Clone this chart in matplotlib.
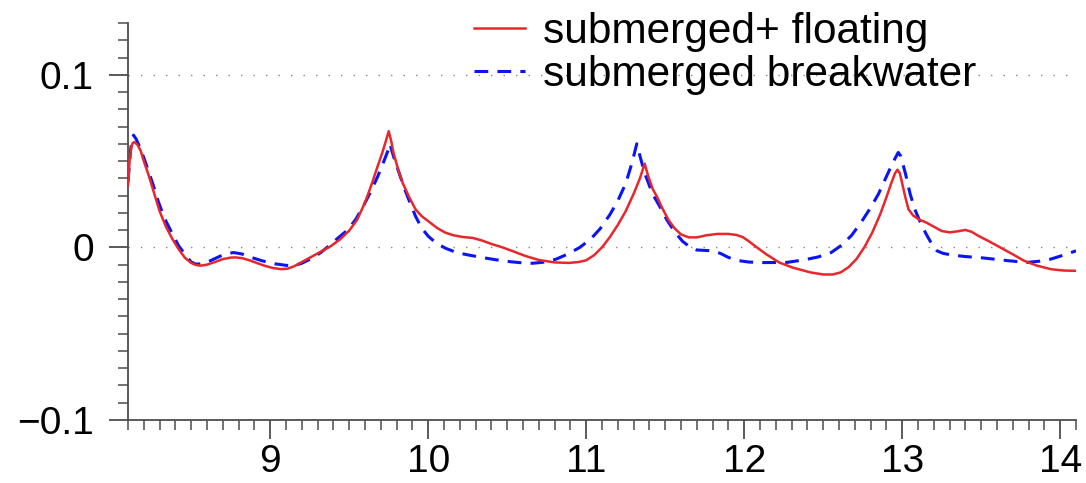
import matplotlib
matplotlib.use("Agg")
import matplotlib.pyplot as plt
from matplotlib.ticker import MultipleLocator

plt.rcParams['font.family'] = ['Liberation Sans', 'DejaVu Sans']

# ---- data ----
red_x = [8.10, 8.11, 8.12, 8.13, 8.14, 8.16, 8.18, 8.20, 8.23, 8.26, 8.30, 8.34, 8.38,
         8.42, 8.46, 8.50, 8.53, 8.56, 8.60, 8.65, 8.70, 8.75, 8.78, 8.82, 8.87, 8.92,
         8.97, 9.02, 9.07, 9.11, 9.15, 9.20, 9.26, 9.32, 9.38, 9.44, 9.50, 9.55, 9.60,
         9.64, 9.68, 9.71, 9.73, 9.75, 9.765, 9.78, 9.81, 9.84, 9.88, 9.92, 9.96, 10.01,
         10.06, 10.11, 10.16, 10.22, 10.28, 10.34, 10.40, 10.47, 10.53, 10.61, 10.70,
         10.80, 10.89, 10.95, 11.00, 11.05, 11.10, 11.15, 11.20, 11.25, 11.30, 11.34,
         11.37, 11.39, 11.42, 11.45, 11.48, 11.52, 11.56, 11.60, 11.65, 11.70, 11.76,
         11.83, 11.90, 11.95, 11.99, 12.03, 12.08, 12.14, 12.22, 12.31, 12.42, 12.50,
         12.56, 12.61, 12.66, 12.71, 12.76, 12.81, 12.86, 12.90, 12.93, 12.955, 12.97,
         12.985, 13.00, 13.02, 13.04, 13.07, 13.11, 13.15, 13.20, 13.25, 13.30, 13.35,
         13.40, 13.44, 13.48, 13.55, 13.62, 13.70, 13.77, 13.85, 13.94, 14.02, 14.11]
red_y = [0.036, 0.050, 0.058, 0.0605, 0.061, 0.0595, 0.056, 0.050, 0.042, 0.033, 0.021,
         0.012, 0.005, -0.001, -0.006, -0.009, -0.0102, -0.0106, -0.0100, -0.0085,
         -0.0068, -0.0059, -0.0058, -0.0062, -0.0075, -0.0092, -0.0108, -0.0120,
         -0.0126, -0.0123, -0.0110, -0.0085, -0.0055, -0.0025, 0.0005, 0.0045, 0.0097,
         0.016, 0.026, 0.036, 0.047, 0.055, 0.061, 0.0673, 0.062, 0.055, 0.045, 0.037,
         0.029, 0.022, 0.018, 0.0145, 0.011, 0.0085, 0.007, 0.006, 0.0055, 0.004, 0.002,
         0.000, -0.002, -0.0048, -0.0073, -0.0087, -0.009, -0.0085, -0.0075, -0.0045,
         0.000, 0.006, 0.013, 0.021, 0.031, 0.040, 0.0485, 0.042, 0.034, 0.029, 0.023,
         0.016, 0.011, 0.0075, 0.0058, 0.0058, 0.007, 0.0078, 0.0078, 0.0072, 0.006,
         0.0035, 0.000, -0.004, -0.0087, -0.0118, -0.0145, -0.0157, -0.0157, -0.0145,
         -0.0115, -0.0068, 0.000, 0.0085, 0.019, 0.029, 0.037, 0.043, 0.045, 0.043,
         0.037, 0.029, 0.022, 0.0184, 0.016, 0.0145, 0.012, 0.0095, 0.0087, 0.0093,
         0.0101, 0.009, 0.0068, 0.0035, 0.000, -0.004, -0.0077, -0.0105, -0.0126,
         -0.0134, -0.0136]

blue_x = [8.10, 8.115, 8.125, 8.135, 8.15, 8.17, 8.20, 8.23, 8.26, 8.29, 8.33, 8.38,
          8.42, 8.46, 8.50, 8.53, 8.57, 8.62, 8.68, 8.73, 8.77, 8.82, 8.88, 8.95, 9.03,
          9.10, 9.15, 9.20, 9.26, 9.32, 9.38, 9.43, 9.485, 9.54, 9.59, 9.64, 9.68, 9.72,
          9.745, 9.758, 9.77, 9.79, 9.82, 9.85, 9.88, 9.92, 9.96, 10.00, 10.05, 10.11,
          10.18, 10.26, 10.35, 10.43, 10.52, 10.60, 10.66, 10.74, 10.81, 10.88, 10.96,
          11.03, 11.09, 11.15, 11.20, 11.25, 11.29, 11.32, 11.34, 11.37, 11.42, 11.47,
          11.51, 11.56, 11.61, 11.66, 11.70, 11.80, 11.85, 11.90, 11.95, 12.03, 12.12,
          12.27, 12.38, 12.47, 12.55, 12.62, 12.68, 12.74, 12.80, 12.85, 12.90, 12.94,
          12.975, 12.99, 13.02, 13.05, 13.08, 13.11, 13.15, 13.19, 13.22, 13.26, 13.32,
          13.40, 13.50, 13.58, 13.68, 13.79, 13.87, 13.94, 14.02, 14.10]
blue_y = [0.038, 0.055, 0.063, 0.065, 0.063, 0.059, 0.052, 0.044, 0.036, 0.027, 0.017,
          0.008, 0.001, -0.004, -0.0085, -0.0097, -0.0095, -0.0078, -0.0052, -0.0035,
          -0.003, -0.0038, -0.0058, -0.0078, -0.0095, -0.0104, -0.0106, -0.0092,
          -0.0065, -0.0030, 0.0015, 0.0055, 0.0097, 0.016, 0.024, 0.033, 0.041, 0.050,
          0.056, 0.060, 0.056, 0.050, 0.042, 0.034, 0.027, 0.018, 0.011, 0.0065, 0.0025,
          -0.0005, -0.003, -0.0045, -0.006, -0.0072, -0.0083, -0.009, -0.0092, -0.0085,
          -0.0068, -0.0040, 0.000, 0.005, 0.011, 0.019, 0.027, 0.037, 0.049, 0.060, 0.053,
          0.043, 0.031, 0.023, 0.016, 0.009, 0.0035, 0.000, -0.0015, -0.002, -0.0035,
          -0.0058, -0.0075, -0.0085, -0.0088, -0.0087, -0.0072, -0.0055, -0.003, 0.0015,
          0.007, 0.0145, 0.023, 0.031, 0.041, 0.049, 0.055, 0.053, 0.043, 0.031, 0.022,
          0.0155, 0.008, 0.0015, -0.002, -0.0035, -0.0045, -0.0053, -0.006, -0.0068,
          -0.0078, -0.0087, -0.008, -0.0068, -0.0045, -0.002]

series_labels = ["submerged+ floating", "submerged breakwater"]
x_ticks = [9, 10, 11, 12, 13, 14]
x_tick_labels = ["9", "10", "11", "12", "13", "14"]
y_ticks = [-0.1, 0.0, 0.1]
y_tick_labels = ["\u22120.1", "0", "0.1"]

# ---- figure ----
W, H = 1086, 483
fig = plt.figure(figsize=(W / 100, H / 100), dpi=100)
left, right, top, bottom = 128, 1076, 23, 420
ax = fig.add_axes([left / W, (H - bottom) / H, (right - left) / W, (bottom - top) / H])

spine_col = "#4d4d4d"
for ycoord in y_ticks[1:]:
    ax.axhline(ycoord, color="#888888", lw=1.0, ls=(0, (1, 8)), zorder=1)

ax.plot(red_x, red_y, color="#e8262b", lw=1.8, label=series_labels[0], zorder=3)
ax.plot(blue_x, blue_y, color="#0a14f5", lw=2.2, ls=(0, (4.5, 3)), label=series_labels[1], zorder=2)

ax.set_xlim(8.1, 14.1)
ax.set_ylim(-0.1, 0.13)

for s in ("top", "right"):
    ax.spines[s].set_visible(False)
for s in ("left", "bottom"):
    ax.spines[s].set_color(spine_col)
    ax.spines[s].set_linewidth(1.3)

ax.set_xticks(x_ticks, labels=x_tick_labels)
ax.set_yticks(y_ticks, labels=y_tick_labels)
ax.xaxis.set_minor_locator(MultipleLocator(0.1))
ax.yaxis.set_minor_locator(MultipleLocator(0.01))
ax.tick_params(which="major", direction="out", length=13.5, width=1.3, color=spine_col,
               labelsize=28, labelcolor="black")
ax.tick_params(which="minor", direction="out", length=7, width=1.1, color=spine_col)
ax.tick_params(axis="x", which="major", pad=4)
ax.tick_params(axis="y", which="major", pad=11)

leg = ax.legend(loc="upper left", bbox_to_anchor=(474 / W, 1 - 12 / H), bbox_transform=fig.transFigure,
                frameon=False, fontsize=30.5, borderpad=0, borderaxespad=0,
                handlelength=1.2, handletextpad=0.42, labelspacing=0.07)

fig.savefig("out.png", dpi=100)
